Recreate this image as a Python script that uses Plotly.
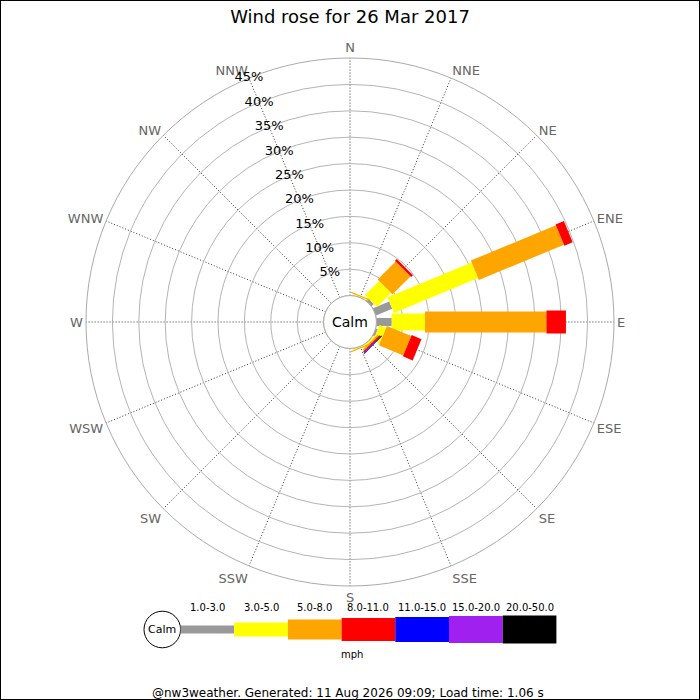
import plotly.graph_objects as go

# wind directions (16 points)
directions = ["N", "NNE", "NE", "ENE", "E", "ESE", "SE", "SSE",
              "S", "SSW", "SW", "WSW", "W", "WNW", "NW", "NNW"]

# speed classes (mph) and their colours
speed_bins = ["1.0-3.0", "3.0-5.0", "5.0-8.0", "8.0-11.0", "11.0-15.0", "15.0-20.0", "20.0-50.0"]
bin_colors = ["#999999", "#ffff00", "#ffa500", "#ff0000", "#0000ff", "#a020f0", "#000000"]

# % of time per direction, per speed class
pct_1_3 = [0, 0.05, 0.6, 3.35, 2.9, 0.4, 0.1, 0.05, 0, 0, 0, 0, 0, 0, 0, 0]
pct_3_5 = [0, 0.15, 3.8, 17.25, 6.3, 1.35, 0.3, 0.15, 0, 0, 0, 0, 0, 0, 0, 0]
pct_5_8 = [0, 0.2, 4.8, 17.45, 23.0, 5.0, 0.3, 0.2, 0, 0, 0, 0, 0, 0, 0, 0]
pct_8_11 = [0, 0, 0.5, 1.7, 3.7, 2.0, 0.3, 0, 0, 0, 0, 0, 0, 0, 0, 0]
pct_11_15 = [0, 0, 0, 0, 0, 0, 0.2, 0, 0, 0, 0, 0, 0, 0, 0, 0]
pct_15_20 = [0] * 16
pct_20_50 = [0] * 16

radial_ticks = [5, 10, 15, 20, 25, 30, 35, 40, 45]
radial_labels = [f"{t}%" for t in radial_ticks]

title = "Wind rose for 26 Mar 2017"
footer = "@nw3weather. Generated: 11 Aug 2026 09:09; Load time: 1.06 s"

W = 700
FONT = "DejaVu Sans"
angles = [i * 22.5 for i in range(16)]
bar_widths = [8, 17, 21, 23, 25, 27, 29]  # thickness of the bars in px

fig = go.Figure()

# stacked bars drawn as thick radial line segments (rectangles like the original)
base = [0] * 16
all_classes = [pct_1_3, pct_3_5, pct_5_8, pct_8_11, pct_11_15, pct_15_20, pct_20_50]
for vals, col, w in zip(all_classes, bin_colors, bar_widths):
    r, th = [], []
    for i, v in enumerate(vals):
        if v > 0:
            r += [base[i], base[i] + v, None]
            th += [angles[i], angles[i], None]
        base[i] += v
    if r:
        fig.add_trace(go.Scatterpolar(r=r, theta=th, mode="lines",
                                      line=dict(color=col, width=w),
                                      hoverinfo="skip", showlegend=False))

# percentage labels sitting on the NNW spoke
fig.add_trace(go.Scatterpolar(r=radial_ticks, theta=[337.5] * len(radial_ticks),
                              mode="text", text=radial_labels, textposition="middle center",
                              textfont=dict(size=13, color="black", family=FONT),
                              cliponaxis=False, hoverinfo="skip", showlegend=False))

# polar area: centre (350,322), radius 264 px
dom_x = [86 / W, 614 / W]
dom_y = [1 - 586 / W, 1 - 58 / W]
cx = 0.5
cy = 1 - 322 / W

fig.update_layout(
    width=700, height=700,
    margin=dict(l=0, r=0, t=0, b=0),
    paper_bgcolor="white",
    font=dict(family=FONT, color="black"),
    showlegend=False,
    title=dict(text=title, x=0.5, xanchor="center", y=1 - 17 / W, yanchor="middle",
               font=dict(size=18, color="black", family=FONT)),
    polar=dict(
        domain=dict(x=dom_x, y=dom_y),
        bgcolor="white",
        hole=0.1,
        radialaxis=dict(range=[0, 45], tickmode="array", tickvals=radial_ticks,
                        showticklabels=False, showline=False, ticks="",
                        gridcolor="#b4b4b4", gridwidth=1, layer="below traces"),
        angularaxis=dict(direction="clockwise", rotation=90,
                         tickmode="array", tickvals=angles, ticktext=directions,
                         showline=True, linecolor="#aaaaaa", linewidth=1,
                         gridcolor="#333333", griddash="1px,2px", gridwidth=1,
                         ticks="", layer="below traces",
                         tickfont=dict(size=13, color="#666666")),
    ),
)

shapes = []
annotations = []


def label(text, x, y, size):
    annotations.append(dict(text=text, x=x / W, y=1 - y / W, xref="paper", yref="paper",
                            xanchor="center", yanchor="middle", showarrow=False,
                            font=dict(size=size, color="black")))


# calm circle in the centre
rc = 26.4 / W
shapes.append(dict(type="circle", xref="paper", yref="paper",
                   x0=cx - rc, x1=cx + rc, y0=cy - rc, y1=cy + rc,
                   fillcolor="white", line=dict(color="#aaaaaa", width=1)))
label("Calm", 350, 322, 14)

# legend at the bottom
leg_y = 629.5
leg_x0 = 180.5
seg_w = 53.7
leg_heights = [8, 14, 20, 23, 25, 27, 28]
rl = 18.3
shapes.append(dict(type="circle", xref="paper", yref="paper",
                   x0=(162.3 - rl) / W, x1=(162.3 + rl) / W,
                   y0=1 - (leg_y + rl) / W, y1=1 - (leg_y - rl) / W,
                   fillcolor="white", line=dict(color="black", width=1)))
label("Calm", 162.3, leg_y, 11)
for k, (lab, col, h) in enumerate(zip(speed_bins, bin_colors, leg_heights)):
    x0 = leg_x0 + k * seg_w
    shapes.append(dict(type="rect", xref="paper", yref="paper",
                       x0=x0 / W, x1=(x0 + seg_w) / W,
                       y0=1 - (leg_y + h / 2) / W, y1=1 - (leg_y - h / 2) / W,
                       fillcolor=col, line=dict(width=0)))
    label(lab, x0 + seg_w / 2, 607, 10)
label("mph", 352, 654, 10)
label(footer, 348, 692.5, 12)

# border around the image
shapes.append(dict(type="rect", xref="paper", yref="paper", x0=0, x1=1, y0=0, y1=1,
                   line=dict(color="black", width=2)))

fig.update_layout(shapes=shapes, annotations=annotations)

fig.write_html("out.html", config={"displayModeBar": False},
               post_script="document.body.style.margin='0px';")
